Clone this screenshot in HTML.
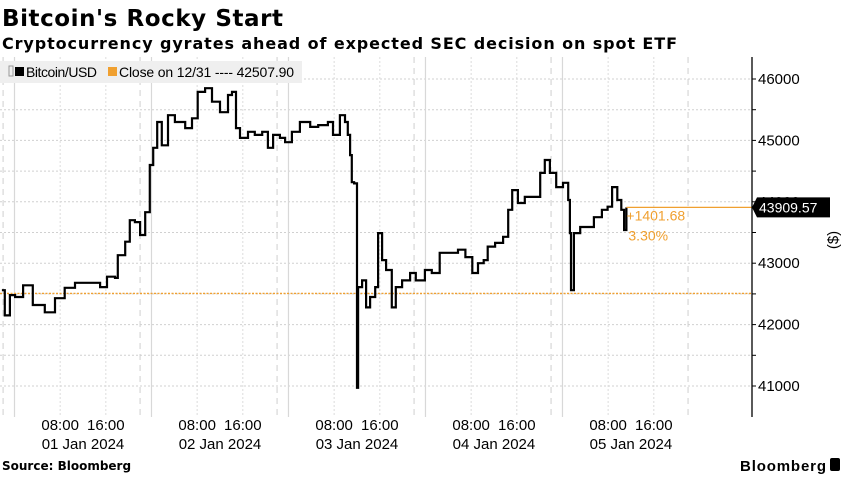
<!DOCTYPE html>
<html><head><meta charset="utf-8"><style>
body{margin:0;background:#fff;width:850px;height:485px;overflow:hidden}
svg{display:block;font-family:"Liberation Sans",sans-serif}
</style></head><body>
<svg id="chart" width="850" height="485" viewBox="0 0 850 485">
<text x="2" y="26" font-family="DejaVu Sans, sans-serif" font-weight="bold" font-size="23" textLength="281">Bitcoin's Rocky Start</text>
<text x="2" y="49" font-family="DejaVu Sans, sans-serif" font-weight="bold" font-size="16" textLength="675">Cryptocurrency gyrates ahead of expected SEC decision on spot ETF</text>
<g id="grid"></g>
<g id="plot"></g>
<g>
<rect x="0" y="61" width="302" height="22" fill="#efefef"/>
<rect x="9" y="66" width="4" height="10" fill="none" stroke="#999" stroke-width="1"/>
<rect x="15" y="67" width="9" height="9" fill="#000"/>
<text x="26" y="77" font-size="14" textLength="71">Bitcoin/USD</text>
<rect x="108" y="67" width="9" height="9" fill="#f0a030"/>
<text x="119" y="77" font-size="14" textLength="175">Close on 12/31 ---- 42507.90</text>
</g>
<g id="axis"></g>
<g id="xaxis"></g>
<text x="0" y="0" font-size="15" transform="translate(838,240) rotate(-90)" text-anchor="middle">($)</text>
<text x="2" y="470" font-family="DejaVu Sans, sans-serif" font-weight="bold" font-size="12">Source: Bloomberg</text>
<text x="826" y="471" text-anchor="end" font-weight="bold" font-size="15" textLength="86">Bloomberg</text>
<rect x="830" y="458" width="10" height="13" rx="2" fill="#000"/>
</svg>
<script>
const hours = [-2.2,-1.7,-0.8,0.1,1.5,3.2,5.3,7.1,8.8,10.6,13.2,15.0,16.2,17.6,18.1,19.4,20.2,21.1,22.0,22.9,23.7,24.3,25.0,25.8,26.9,28.1,29.9,31.1,32.1,33.4,34.6,36.0,37.4,38.1,38.8,39.5,40.9,42.1,43.4,44.4,45.3,46.5,47.4,48.6,50.0,51.8,53.2,54.9,55.8,57.0,57.9,58.4,58.8,59.1,59.5,60.0,60.2,60.9,61.6,62.3,63.2,63.7,64.4,65.1,66.1,66.8,67.9,69.3,70.3,71.9,73.1,74.5,76.3,77.7,79.0,80.2,81.2,82.2,82.9,84.2,85.6,86.5,87.2,88.2,89.4,90.7,92.1,92.9,93.8,94.9,96.1,97.0,97.3,97.5,98.0,99.1,100.1,101.5,102.9,103.9,104.7,105.6,106.3,106.8,107.2];
const prices = [42560,42150,42480,42450,42640,42320,42200,42430,42600,42680,42680,42610,42780,42760,43130,43350,43700,43670,43460,43830,44600,44880,45300,44920,45410,45300,45200,45360,45790,45850,45630,45460,45740,45790,45200,45040,45140,45090,45140,44880,45090,45040,44970,45140,45300,45220,45250,45300,45090,45410,45300,45090,44760,44320,44300,40970,42610,42720,42280,42450,42610,43490,43050,42890,42280,42610,42720,42840,42720,42890,42840,43170,43170,43220,43100,42840,43000,43050,43270,43330,43430,43870,44190,43980,44080,44080,44470,44680,44470,44240,44310,44030,43490,42560,43490,43590,43590,43750,43870,43920,44240,44030,43870,43540,43909.57];
const yTicks = [41000,42000,43000,44000,45000,46000];
const dayLabels = ["01 Jan 2024","02 Jan 2024","03 Jan 2024","04 Jan 2024","05 Jan 2024"];
const hourLabels = ["08:00","16:00"];
const prevClose = 42507.90;
const lastValue = 43909.57;
const change = "+1401.68";
const changePct = "3.30%";

const NS="http://www.w3.org/2000/svg";
const X=h=>14.5+h*5.708;
const Y=v=>79+(46000-v)*0.0614;
function mk(tag,attrs,parent,txt){const e=document.createElementNS(NS,tag);for(const k in attrs)e.setAttribute(k,attrs[k]);if(txt!==undefined)e.textContent=txt;parent.appendChild(e);return e;}
const grid=document.getElementById('grid'),plot=document.getElementById('plot'),axis=document.getElementById('axis'),xaxis=document.getElementById('xaxis');
for(let v=41000;v<=46000;v+=500){const l=mk('line',{x1:0,x2:752,y1:Y(v),y2:Y(v),stroke:'#d0d0d0','stroke-dasharray':'2,2'},grid);


const t=mk('line',{x1:752,x2:756,y1:Y(v),y2:Y(v),stroke:'#000'},axis);

}
for(let d=-1;d<5;d++){
 const m=mk('line',{x1:X(d*24),x2:X(d*24),y1:57,y2:417,stroke:'#d8d8d8','stroke-width':1.2},grid);
 
 
 const p=mk('line',{x1:X(d*24+22),x2:X(d*24+22),y1:57,y2:417,stroke:'#cfcfcf','stroke-dasharray':'6,5'},grid);
 
 
 if(d>=0)[8,16].forEach(h=>{const q=mk('line',{x1:X(d*24+h),x2:X(d*24+h),y1:57,y2:417,stroke:'#dcdcdc','stroke-dasharray':'2,2'},grid);
 
 });
}
const pc=mk('line',{x1:0,x2:752,y1:Y(prevClose),y2:Y(prevClose),stroke:'#f0a030','stroke-dasharray':'2,1.5','stroke-width':1.3},plot);


let d='';hours.forEach((h,i)=>{const x=X(h).toFixed(1),y=Y(prices[i]).toFixed(1);d+=i?('H'+x+'V'+y):('M'+x+','+y);});
const s=mk('path',{d:d,fill:'none',stroke:'#000','stroke-width':2.2,'stroke-linejoin':'miter'},plot);


const lx=X(hours[hours.length-1]);
const ol=mk('line',{x1:lx,x2:752,y1:Y(lastValue),y2:Y(lastValue),stroke:'#f0a030','stroke-width':1.3},plot);


const c1=mk('text',{x:lx,y:Y(lastValue)+13,'font-size':14,fill:'#f0a030'},plot,change);


const c2=mk('text',{x:lx+2,y:Y(lastValue)+33,'font-size':14,fill:'#f0a030'},plot,changePct);


const al=mk('line',{x1:752,x2:752,y1:57,y2:417,stroke:'#000','stroke-width':1.3},axis);


yTicks.forEach(v=>{const t=mk('text',{x:758,y:Y(v)+5,'font-size':15},axis,String(v));

});
const ly=Y(lastValue);
const lb=mk('path',{d:`M752,${ly} L757,${ly-10} L830,${ly-10} L830,${ly+10} L757,${ly+10} Z`,fill:'#000'},axis);


const lt=mk('text',{x:759,y:ly+5,'font-size':14,fill:'#fff'},axis,lastValue.toFixed(2));


dayLabels.forEach((lab,i)=>{
 const t=mk('text',{x:X(i*24+12),y:449,'font-size':15,'text-anchor':'middle'},xaxis,lab);
 
 
 [8,16].forEach((h,j)=>{const u=mk('text',{x:X(i*24+h),y:430,'font-size':15,'text-anchor':'middle'},xaxis,hourLabels[j]);
 
 });
});
</script>
</body></html>
